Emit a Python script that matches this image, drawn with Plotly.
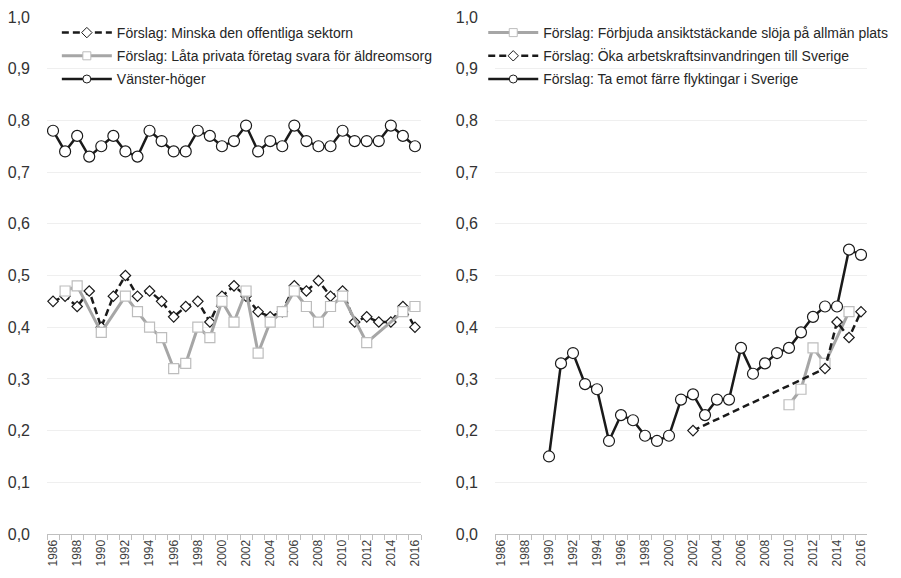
import plotly.graph_objects as go

years = list(range(1986, 2017))

# Left panel
minska = [0.45, 0.46, 0.44, 0.47, 0.40, 0.46, 0.50, 0.46, 0.47, 0.45, 0.42, 0.44, 0.45, 0.41, 0.46, 0.48,
          0.46, 0.43, 0.42, 0.43, 0.48, 0.47, 0.49, 0.46, 0.47, 0.41, 0.42, 0.41, 0.41, 0.44, 0.40]
lata_privata = [None, 0.47, 0.48, None, 0.39, None, 0.46, 0.43, 0.40, 0.38, 0.32, 0.33, 0.40, 0.38, 0.45, 0.41,
                0.47, 0.35, 0.41, 0.43, 0.47, 0.44, 0.41, 0.44, 0.46, None, 0.37, None, None, 0.43, 0.44]
vanster_hoger = [0.78, 0.74, 0.77, 0.73, 0.75, 0.77, 0.74, 0.73, 0.78, 0.76, 0.74, 0.74, 0.78, 0.77, 0.75, 0.76,
                 0.79, 0.74, 0.76, 0.75, 0.79, 0.76, 0.75, 0.75, 0.78, 0.76, 0.76, 0.76, 0.79, 0.77, 0.75]

# Right panel
forbjuda = [None] * 24 + [0.25, 0.28, 0.36, 0.33, None, 0.43, None]
oka = [None] * 16 + [0.20] + [None] * 10 + [0.32, 0.41, 0.38, 0.43]
farre_flyktingar = [None, None, None, None, 0.15, 0.33, 0.35, 0.29, 0.28, 0.18, 0.23, 0.22, 0.19, 0.18, 0.19, 0.26,
                    0.27, 0.23, 0.26, 0.26, 0.36, 0.31, 0.33, 0.35, 0.36, 0.39, 0.42, 0.44, 0.44, 0.55, 0.54]

names_left = ["Förslag: Minska den offentliga sektorn",
              "Förslag: Låta privata företag svara för äldreomsorg",
              "Vänster-höger"]
names_right = ["Förslag: Förbjuda ansiktstäckande slöja på allmän plats",
               "Förslag: Öka arbetskraftsinvandringen till Sverige",
               "Förslag: Ta emot färre flyktingar i Sverige"]

xcats = [str(y) for y in years]

BLACK = "#1a1a1a"
GRAY = "#a6a6a6"
MGRAY = "#bdbdbd"
DASH = "7px,4px"

STYLES = {
    "dashed": dict(line=dict(color=BLACK, width=2.5, dash=DASH), symbol="diamond", size=8,
                   mline=BLACK, connect=True),
    "gray": dict(line=dict(color=GRAY, width=3), symbol="square", size=10, mline=MGRAY, connect=True),
    "black": dict(line=dict(color=BLACK, width=2.5), symbol="circle", size=11, mline=BLACK, connect=False),
}


def series(y, style, xa, ya):
    s = STYLES[style]
    return go.Scatter(x=xcats, y=y, xaxis=xa, yaxis=ya, showlegend=False, hoverinfo="x+y",
                      mode="lines+markers", connectgaps=s["connect"], line=s["line"],
                      marker=dict(symbol=s["symbol"], size=s["size"], color="white",
                                  line=dict(color=s["mline"], width=1.2)))


def legend_entry(name, style, xa, ya, leg, grp):
    s = STYLES[style]
    return go.Scatter(x=[None], y=[None], xaxis=xa, yaxis=ya, name=name, legend=leg, legendgroup=grp,
                      showlegend=True, mode="lines+markers", line=s["line"],
                      marker=dict(symbol=s["symbol"], size=8, color="white",
                                  line=dict(color=s["mline"], width=1)))


fig = go.Figure()
fig.add_trace(series(minska, "dashed", "x", "y"))
fig.add_trace(series(lata_privata, "gray", "x", "y"))
fig.add_trace(series(vanster_hoger, "black", "x", "y"))
fig.add_trace(series(forbjuda, "gray", "x2", "y2"))
fig.add_trace(series(oka, "dashed", "x2", "y2"))
fig.add_trace(series(farre_flyktingar, "black", "x2", "y2"))

for n, st, g in zip(names_left, ["dashed", "gray", "black"], "abc"):
    fig.add_trace(legend_entry(n, st, "x", "y", "legend", g))
for n, st, g in zip(names_right, ["gray", "dashed", "black"], "def"):
    fig.add_trace(legend_entry(n, st, "x2", "y2", "legend2", g))

ticktext = [c if (int(c) % 2 == 0) else "" for c in xcats]
xcommon = dict(type="category", categoryorder="array", categoryarray=xcats,
               range=[-0.5, len(xcats) - 0.5], automargin=False,
               tickmode="array", tickvals=xcats, ticktext=ticktext, tickangle=-90,
               tickson="boundaries", ticks="outside", ticklen=5, tickcolor="#bfbfbf", tickwidth=1,
               tickfont=dict(family="Liberation Sans, Arial", size=12, color="#404040"),
               showgrid=False, zeroline=False, showline=True, linecolor="#bfbfbf", linewidth=1,
               fixedrange=True)
ycommon = dict(range=[0, 1.0], tickmode="array", tickvals=[i / 10 for i in range(11)],
               tickformat=".1f", showgrid=True, gridcolor="#efefef", gridwidth=1, automargin=False,
               zeroline=False, showline=False, ticks="", ticklabelstandoff=16,
               tickfont=dict(family="Liberation Sans, Arial", size=16, color="#333333"),
               fixedrange=True)

W = 820
legfont = dict(family="Liberation Sans, Arial", size=14, color="#262626")
fig.update_layout(
    width=901, height=578,
    margin=dict(l=47, r=34, t=17, b=44, autoexpand=False),
    paper_bgcolor="white", plot_bgcolor="white",
    separators=", ",
    showlegend=True,
    xaxis=dict(domain=[0, 374 / W], anchor="y", **xcommon),
    yaxis=dict(domain=[0, 1], anchor="x", **ycommon),
    xaxis2=dict(domain=[448 / W, 1], anchor="y2", **xcommon),
    yaxis2=dict(domain=[0, 1], anchor="x2", **ycommon),
    legend=dict(x=0.012, y=1.0, xanchor="left", yanchor="top", bgcolor="rgba(0,0,0,0)",
                font=legfont, tracegroupgap=2, itemwidth=50),
    legend2=dict(x=0.532, y=1.0, xanchor="left", yanchor="top", bgcolor="rgba(0,0,0,0)",
                 font=legfont, tracegroupgap=2, itemwidth=50),
)

fig.write_html("out.html", config={"displayModeBar": False},
               post_script="document.body.style.margin='0';")
